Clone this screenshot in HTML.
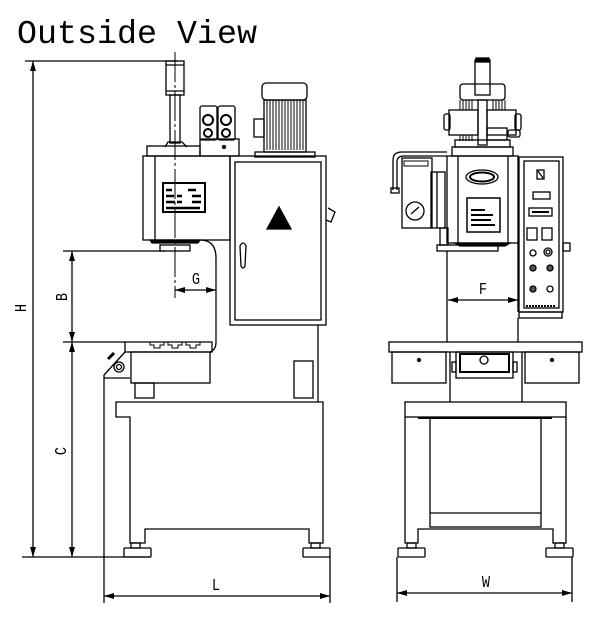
<!DOCTYPE html>
<html><head><meta charset="utf-8"><style>
html,body{margin:0;padding:0;background:#fff;width:600px;height:630px;overflow:hidden}
svg{display:block}
text{font-family:"Liberation Mono",monospace;fill:#000}
</style></head><body>
<svg width="600" height="630" viewBox="0 0 600 630" xmlns="http://www.w3.org/2000/svg">
<defs>
<marker id="a" viewBox="0 0 10 6" refX="10" refY="3" markerWidth="10" markerHeight="6" orient="auto-start-reverse" markerUnits="userSpaceOnUse"><path d="M0,0 L10,3 L0,6z" fill="#000"/></marker>
</defs>
<text x="17" y="43" font-size="33" textLength="240" lengthAdjust="spacingAndGlyphs">Outside View</text>
<g fill="none" stroke="#000" stroke-width="1.3">
<line x1="25" y1="61" x2="178" y2="61"/>
<line x1="33" y1="61" x2="33" y2="557" marker-start="url(#a)" marker-end="url(#a)"/>
<line x1="22" y1="557" x2="150" y2="557"/>
<line x1="63" y1="251" x2="165" y2="251"/>
<line x1="63" y1="342" x2="125" y2="342"/>
<line x1="72" y1="251" x2="72" y2="342" marker-start="url(#a)" marker-end="url(#a)"/>
<line x1="72" y1="342" x2="72" y2="557" marker-start="url(#a)" marker-end="url(#a)"/>
<line x1="175" y1="290" x2="216" y2="290" marker-start="url(#a)" marker-end="url(#a)"/>
<line x1="175" y1="52" x2="175" y2="298" stroke-dasharray="30,3,3,3" stroke-width="1"/>
<line x1="104" y1="596" x2="330" y2="596" marker-start="url(#a)" marker-end="url(#a)"/>
<line x1="104" y1="375" x2="104" y2="603"/>
<line x1="330" y1="557" x2="330" y2="603"/>
<rect x="166" y="61" width="18" height="34"/>
<line x1="166" y1="65" x2="184" y2="65"/>
<line x1="166" y1="91" x2="184" y2="91"/>
<rect x="170" y="95" width="10" height="48"/>
<path d="M165,147 L168,142 L182,142 L187,147"/>
<rect x="147" y="146" width="53" height="10"/>
<rect x="200" y="139" width="39" height="17"/>
<circle cx="224" cy="147" r="1.5" fill="#000"/>
<rect x="200" y="106" width="17" height="34" rx="2"/>
<rect x="218" y="106" width="17" height="34" rx="2"/>
<circle cx="208" cy="120" r="5" stroke-width="2"/><circle cx="226" cy="120" r="5" stroke-width="2"/>
<circle cx="208" cy="133" r="4" stroke-width="2"/><circle cx="226" cy="133" r="4" stroke-width="2"/>
<rect x="262" y="83" width="45" height="17" rx="4"/>
<rect x="264" y="100" width="42" height="52"/>
<g stroke-width="1">
<line x1="267" y1="100" x2="267" y2="150"/><line x1="270" y1="100" x2="270" y2="150"/><line x1="273" y1="100" x2="273" y2="150"/><line x1="276" y1="100" x2="276" y2="150"/><line x1="279" y1="100" x2="279" y2="150"/><line x1="282" y1="100" x2="282" y2="150"/><line x1="285" y1="100" x2="285" y2="150"/><line x1="288" y1="100" x2="288" y2="150"/><line x1="291" y1="100" x2="291" y2="150"/><line x1="294" y1="100" x2="294" y2="150"/><line x1="297" y1="100" x2="297" y2="150"/><line x1="300" y1="100" x2="300" y2="150"/><line x1="303" y1="100" x2="303" y2="150"/>
</g>
<rect x="254" y="119" width="10" height="18"/>
<rect x="255" y="152" width="60" height="5"/>
<rect x="143" y="156" width="87" height="84"/>
<line x1="155" y1="156" x2="155" y2="240"/>
<rect x="163" y="183" width="42" height="29" stroke-width="2"/>
<g stroke-width="2.5"><path d="M166,190 h6 M166,196 h8 M166,202 h9 M177,196 h5 M177,202 h5 M188,190 h8 M192,196 h9 M192,202 h9 M166,208 h34"/></g>
<path d="M150,240 L200,240 L198,243 L152,243z" fill="#000"/>
<rect x="160" y="245" width="30" height="6"/>
<path d="M200,240 Q216,240 216,258 L216,342 Q216,350 210,352"/>
<rect x="230" y="156" width="96" height="169"/>
<rect x="235" y="162" width="86" height="158"/>
<path d="M267,229 L279,207 L291,229z" fill="#000"/>
<path d="M240,246 Q243,240 246,246 L245,266 Q243,270 241,266z"/>
<path d="M328,208 L335,212 L331,222 L326,220"/>
<line x1="318" y1="325" x2="318" y2="402"/>
<rect x="294" y="361" width="19" height="37"/>
<path d="M125,342 L212,342 L212,352 L125,352z"/>
<path d="M150,342 v3 h4 v3 h6 v-3 h4 v-3 M168,342 v3 h4 v3 h6 v-3 h4 v-3 M186,342 v3 h4 v3 h6 v-3 h4 v-3" stroke-width="1"/>
<path d="M104,375 L125,352"/>
<line x1="104" y1="378" x2="130" y2="378"/>
<rect x="131" y="352" width="79" height="31"/>
<rect x="135" y="383" width="19" height="15"/>
<circle cx="119" cy="367" r="5"/><circle cx="119" cy="367" r="2.5"/>
<line x1="108" y1="359" x2="114" y2="353" stroke-width="3"/>
<path d="M116,402 L323,402 L323,543 L309,543 L309,529 L145,529 L145,543 L130,543 L130,417 L116,417z"/>
<rect x="131" y="543" width="9" height="5"/><rect x="124" y="548" width="27" height="9" rx="1"/>
<rect x="311" y="543" width="9" height="5"/><rect x="303" y="548" width="27" height="9" rx="1"/>

<rect x="475" y="60" width="15" height="35"/>
<rect x="476" y="58" width="13" height="4" fill="#000"/>
<rect x="460" y="84" width="45" height="16" rx="3"/>
<rect x="478" y="100" width="9" height="45"/>
<rect x="449" y="110" width="29" height="25"/><rect x="487" y="110" width="29" height="25"/>
<rect x="444" y="114" width="6" height="16" rx="2"/><rect x="515" y="114" width="6" height="16" rx="2"/>
<g stroke-width="1"><path d="M460,100 v10 M463,100 v10 M466,100 v10 M469,100 v10 M472,100 v10 M493,100 v10 M496,100 v10 M499,100 v10 M502,100 v10 M505,100 v10 M460,135 v6 M463,135 v6 M466,135 v6 M469,135 v6 M472,135 v6"/></g>
<rect x="487" y="128" width="20" height="12"/>
<rect x="508" y="130" width="12" height="7" rx="2"/>
<rect x="455" y="140" width="55" height="7"/>
<rect x="452" y="147" width="61" height="9"/>
<rect x="447" y="156" width="71" height="87"/>
<line x1="458" y1="156" x2="458" y2="243"/><line x1="508" y1="156" x2="508" y2="243"/>
<ellipse cx="482" cy="177" rx="16" ry="7"/><ellipse cx="482" cy="177" rx="12" ry="4.5" stroke-width="2"/>
<rect x="467" y="198" width="33" height="34" stroke-width="1.5"/>
<g stroke-width="2"><path d="M471,210 h14 M471,215 h22 M471,220 h20 M471,225 h24"/></g>
<rect x="437" y="245" width="61" height="6"/>
<path d="M455,243 L510,243 L505,246 L460,246z" fill="#000"/>
<rect x="402" y="158" width="30" height="70"/>
<rect x="404" y="161" width="24" height="5" stroke-width="1"/>
<circle cx="415" cy="211" r="9"/><line x1="411" y1="214" x2="419" y2="207"/>
<rect x="431" y="172" width="14" height="56"/>
<line x1="437" y1="172" x2="437" y2="228"/>
<path d="M393,190 L393,160 Q393,152 402,152 L447,152"/><path d="M397,190 L397,162 Q397,156 404,156 L447,156"/>
<rect x="391" y="188" width="8" height="5"/>
<rect x="440" y="228" width="8" height="17"/>
<rect x="519" y="157" width="44" height="155"/>
<rect x="524" y="161" width="35" height="147"/>
<rect x="519" y="312" width="43" height="6"/>
<rect x="563" y="243" width="7" height="8"/>
<rect x="537" y="170" width="7" height="9"/><line x1="538" y1="171" x2="543" y2="178"/>
<rect x="533" y="192" width="17" height="7"/>
<rect x="529" y="208" width="23" height="8"/><line x1="532" y1="212" x2="549" y2="212" stroke-width="2"/>
<rect x="527" y="228" width="10" height="12"/><rect x="542" y="228" width="10" height="12"/>
<circle cx="533" cy="253" r="3"/><circle cx="548" cy="252" r="4"/><circle cx="548" cy="252" r="2"/>
<circle cx="533" cy="268" r="3" fill="#555"/><circle cx="550" cy="268" r="3" fill="#555"/>
<circle cx="533" cy="289" r="3" fill="#555"/><circle cx="550" cy="289" r="3"/>
<line x1="526" y1="306" x2="556" y2="306" stroke-width="2" stroke-dasharray="2,1"/>
<line x1="447" y1="251" x2="447" y2="342"/><line x1="518" y1="318" x2="518" y2="342"/>
<line x1="518" y1="243" x2="518" y2="312"/>
<line x1="448" y1="300" x2="518" y2="300" marker-start="url(#a)" marker-end="url(#a)"/>
<rect x="389" y="342" width="193" height="10"/>
<rect x="392" y="352" width="54" height="31"/><circle cx="419" cy="360" r="1.5" fill="#000"/>
<rect x="525" y="352" width="54" height="31"/><circle cx="552" cy="360" r="1.5" fill="#000"/>
<line x1="450" y1="352" x2="450" y2="402"/><line x1="522" y1="352" x2="522" y2="402"/>
<rect x="456" y="352" width="57" height="26"/>
<rect x="460" y="354" width="49" height="18" stroke-width="2"/>
<circle cx="484" cy="360" r="4"/>
<rect x="452" y="362" width="4" height="10"/><rect x="513" y="362" width="4" height="10"/>
<rect x="405" y="402" width="161" height="15"/>
<line x1="418" y1="418" x2="552" y2="418" stroke-width="2"/>
<path d="M405,417 L405,543 L418,543 L418,529 L553,529 L553,543 L566,543 L566,417"/>
<rect x="430" y="418" width="111" height="109"/>
<line x1="430" y1="513" x2="541" y2="513"/>
<rect x="407" y="543" width="9" height="5"/><rect x="398" y="548" width="27" height="9" rx="1"/>
<rect x="555" y="543" width="9" height="5"/><rect x="546" y="548" width="27" height="9" rx="1"/>
<line x1="397" y1="557" x2="397" y2="602"/><line x1="572" y1="557" x2="572" y2="602"/>
<line x1="397" y1="593" x2="572" y2="593" marker-start="url(#a)" marker-end="url(#a)"/>
</g>
<g font-size="17">
<text x="196" y="284" text-anchor="middle" transform="translate(196,0) scale(0.8,1) translate(-196,0)">G</text>
<text x="483" y="294" text-anchor="middle" transform="translate(483,0) scale(0.8,1) translate(-483,0)">F</text>
<text x="216" y="590" text-anchor="middle" transform="translate(216,0) scale(0.8,1) translate(-216,0)">L</text>
<text x="486" y="587" text-anchor="middle" transform="translate(486,0) scale(0.8,1) translate(-486,0)">W</text>
<text transform="translate(26,308) rotate(-90) scale(0.8,1)" text-anchor="middle">H</text>
<text transform="translate(67,297) rotate(-90) scale(0.8,1)" text-anchor="middle">B</text>
<text transform="translate(66,451) rotate(-90) scale(0.8,1)" text-anchor="middle">C</text>
</g>
</svg>
</body></html>
